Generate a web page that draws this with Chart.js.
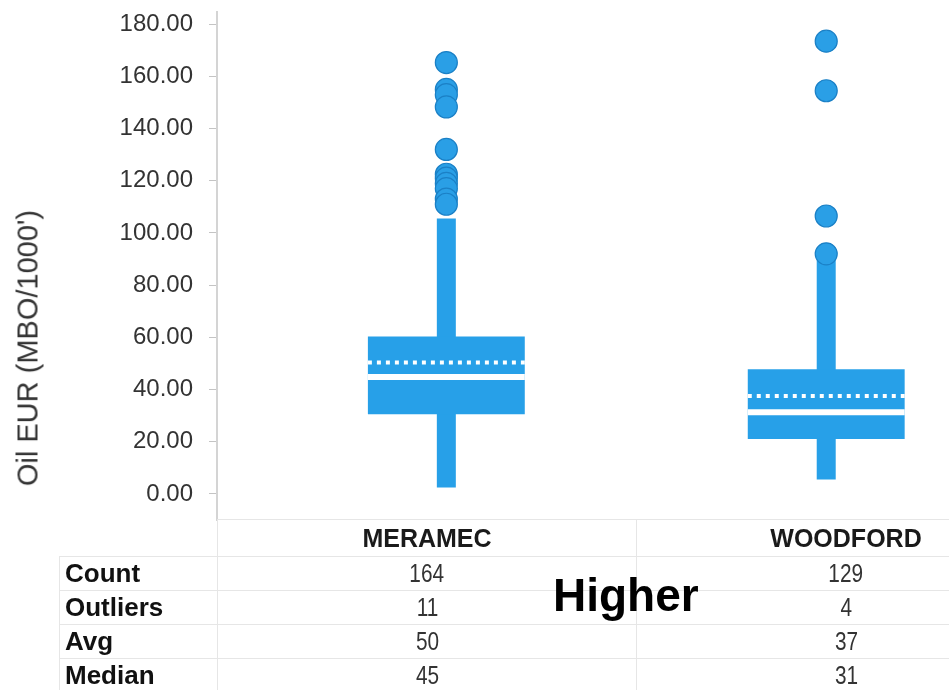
<!DOCTYPE html>
<html>
<head>
<meta charset="utf-8">
<script src="https://cdn.jsdelivr.net/npm/chart.js@4.4.0/dist/chart.umd.min.js"></script>
<style>
  body { margin: 0; background: #fff; }
  #wrap { position: relative; width: 949px; height: 690px; overflow: hidden; font-family: Arial, "Liberation Sans", sans-serif; }
  #chart { position: absolute; left: 0; top: 0; }
  #ytitle { position: absolute; left: 28px; top: 348px; transform: translate(-50%, -50%) rotate(-90deg);
            white-space: nowrap; font-size: 29px; color: #333; }
  #stats { position: absolute; left: 59px; top: 519px; border-collapse: collapse; table-layout: fixed; width: 996px; }
  #stats th, #stats td { padding: 0; border: 1px solid #e6e6e6; overflow: hidden; white-space: nowrap; }
  #stats th { height: 36px; font-size: 25px; font-weight: bold; color: #1a1a1a; text-align: center; }
  #stats th.blank { border: none; border-bottom: 1px solid #e6e6e6; }
  #stats td { height: 33px; font-size: 26px; color: #333; text-align: center; }
  #stats td.lbl { text-align: left; padding-left: 5px; font-weight: bold; color: #111; }
  #stats td span { display: inline-block; transform: scaleX(0.8); }
  #note { position: absolute; left: 553px; top: 572px; font-size: 46px; line-height: 46px; font-weight: bold; color: #000; }
</style>
</head>
<body>
<div id="wrap">
  <canvas id="chart" width="949" height="690"></canvas>
  <div id="ytitle">Oil EUR (MBO/1000')</div>
  <table id="stats"></table>
  <div id="note">Higher</div>
</div>
<script>
// categories and box plot values
const categories = ['MERAMEC', 'WOODFORD'];
const whiskerLow = [2.5, 5.5];
const whiskerHigh = [105.5, 89.5];
const boxLow = [30.5, 21.0];
const boxHigh = [60.3, 47.8];
const medians = [44.8, 31.3];
const averages = [50.4, 37.5];
const meramecOutliers = [165.3, 155, 153, 148.3, 132, 122.5, 121, 119, 117, 113, 111];
const woodfordOutliers = [173.5, 154.5, 106.5, 92];
const yTicks = [0, 20, 40, 60, 80, 100, 120, 140, 160, 180];

// summary table
const rowLabels = ['Count', 'Outliers', 'Avg', 'Median'];
const meramecStats = [164, 11, 50, 45];
const woodfordStats = [129, 4, 37, 31];

const blue = '#27a0e8';
const boxPct = 0.413;    // box width as share of category spacing
const whiskerPct = 0.05;
const half = boxPct / 2;

// build the table
function buildTable() {
    const t = document.getElementById('stats');
    let html = '<colgroup><col style="width:158px"><col style="width:419px"><col style="width:419px"></colgroup>';
    html += '<tr><th class="blank"></th>' + categories.map(c => '<th>' + c + '</th>').join('') + '</tr>';
    rowLabels.forEach((lab, i) => {
        html += '<tr><td class="lbl">' + lab + '</td><td><span>' + meramecStats[i] +
                '</span></td><td><span>' + woodfordStats[i] + '</span></td></tr>';
    });
    t.innerHTML = html;
}
buildTable();

// horizontal segment across each box (median / average)
function segments(values) {
    const pts = [];
    values.forEach((v, i) => {
        pts.push({x: i - half, y: v});
        pts.push({x: i + half, y: v});
        pts.push({x: i + 0.5, y: null});
    });
    return pts;
}

const outlierPoints = [];
meramecOutliers.forEach(v => outlierPoints.push({x: 0, y: v}));
woodfordOutliers.forEach(v => outlierPoints.push({x: 1, y: v}));

new Chart(document.getElementById('chart'), {
    type: 'bar',
    data: {
        datasets: [
            {
                label: 'Whisker',
                data: categories.map((c, i) => ({x: i, y: [whiskerLow[i], whiskerHigh[i]]})),
                backgroundColor: blue,
                grouped: false,
                categoryPercentage: 1,
                barPercentage: whiskerPct,
                order: 5
            },
            {
                label: 'Box',
                data: categories.map((c, i) => ({x: i, y: [boxLow[i], boxHigh[i]]})),
                backgroundColor: blue,
                grouped: false,
                categoryPercentage: 1,
                barPercentage: boxPct,
                order: 4
            },
            {
                type: 'scatter',
                label: 'Outliers',
                data: outlierPoints,
                backgroundColor: '#2a9fe6',
                borderColor: '#1b80c6',
                borderWidth: 1.2,
                pointRadius: 11,
                order: 3
            },
            {
                type: 'line',
                label: 'Median',
                data: segments(medians),
                borderColor: '#ffffff',
                borderWidth: 6,
                pointRadius: 0,
                spanGaps: false,
                order: 2
            },
            {
                type: 'line',
                label: 'Avg',
                data: segments(averages),
                borderColor: '#ffffff',
                borderWidth: 4,
                borderDash: [4, 5],
                borderCapStyle: 'butt',
                pointRadius: 0,
                spanGaps: false,
                order: 1
            }
        ]
    },
    options: {
        responsive: false,
        animation: false,
        devicePixelRatio: 1,
        layout: { padding: { top: 5, bottom: 170, left: 0, right: 0 } },
        plugins: {
            legend: { display: false },
            tooltip: { enabled: false }
        },
        scales: {
            x: {
                type: 'linear',
                display: false,
                offset: false,
                min: -0.6037,
                max: 1.2911,
                afterBuildTicks: function(scale) {
                    scale.ticks = categories.map((c, i) => ({value: i}));
                }
            },
            y: {
                min: -10,
                max: 184.6,
                afterBuildTicks: function(scale) {
                    scale.ticks = yTicks.map(v => ({value: v}));
                },
                afterFit: function(scale) {
                    scale.width = 217;
                    scale.paddingTop = 0;
                    scale.paddingBottom = 0;
                },
                ticks: {
                    color: '#333',
                    padding: 16,
                    font: { family: 'Arial', size: 24 },
                    callback: function(value) {
                        return Number(value).toFixed(2);
                    }
                },
                grid: {
                    drawOnChartArea: false,
                    tickLength: 8,
                    tickColor: '#c4c4c4'
                },
                border: { color: '#d4d4d4', width: 2 }
            }
        }
    }
});
</script>
</body>
</html>
